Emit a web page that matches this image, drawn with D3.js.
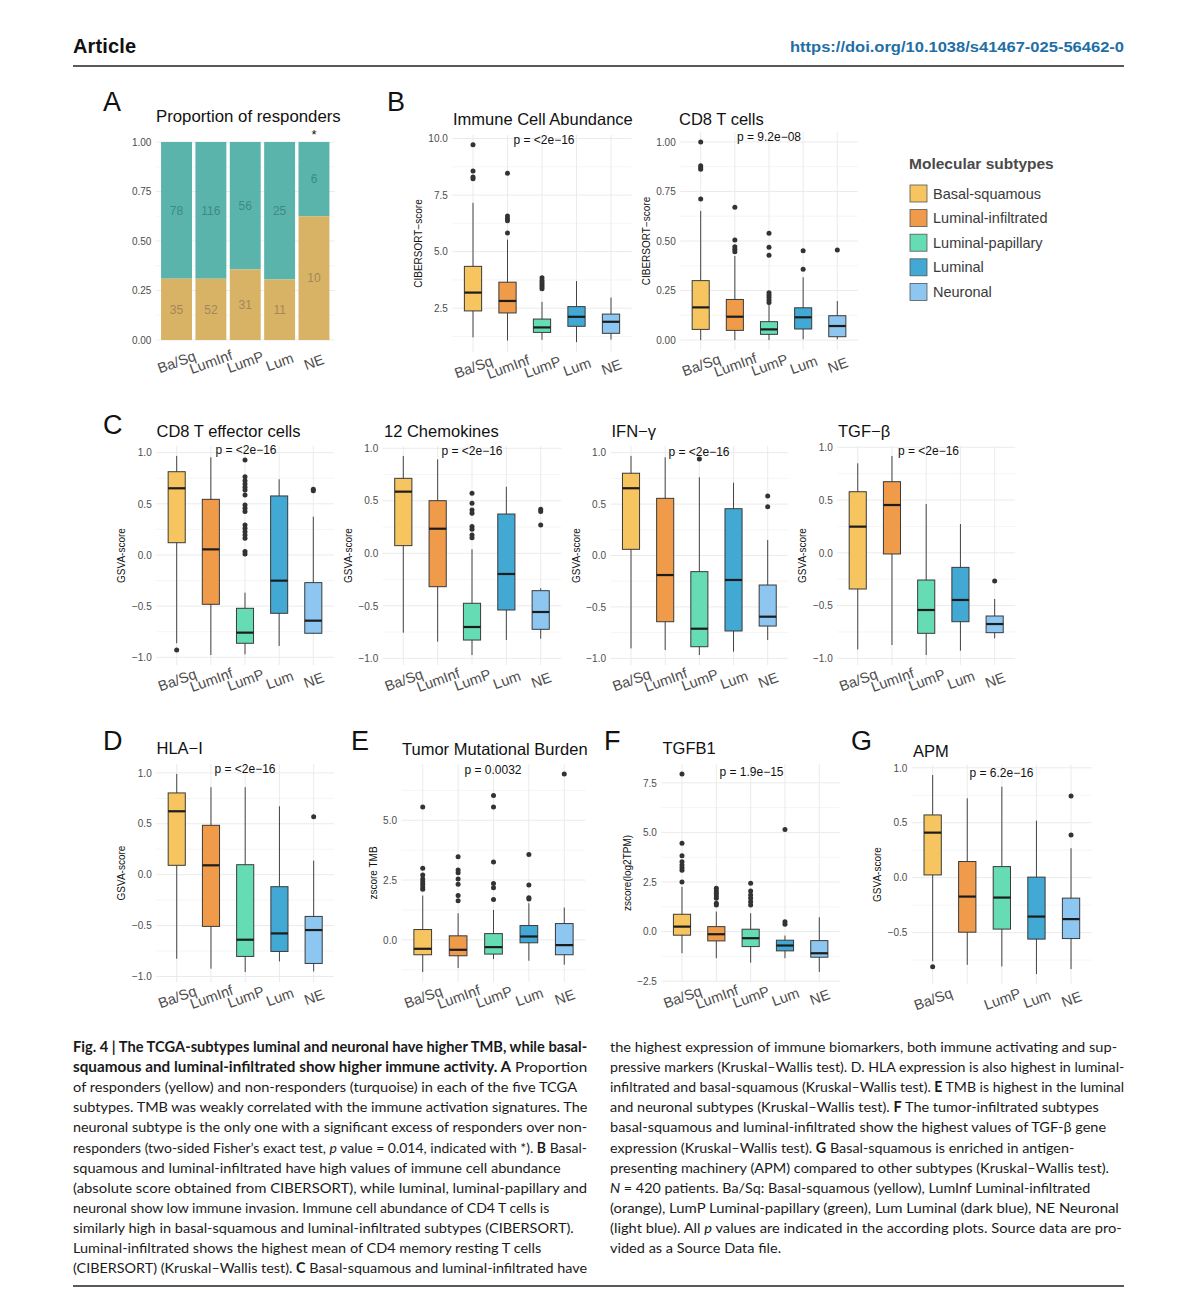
<!DOCTYPE html>
<html>
<head>
<meta charset="utf-8">
<script src="https://cdn.jsdelivr.net/npm/d3@7"></script>
<style>
  body { margin: 0; background: #fff; }
  svg { display: block; font-family: "Liberation Sans", Arial, Helvetica, sans-serif; }
</style>
</head>
<body>
<svg id="fig" width="1188" height="1312"></svg>
<script>
// DATA: categories + colours
const groups = ["Ba/Sq", "LumInf", "LumP", "Lum", "NE"];
const subtypes = ["Basal-squamous", "Luminal-infiltrated", "Luminal-papillary", "Luminal", "Neuronal"];
const subtypeColors = ["#F7C55F", "#EF9B4A", "#66DCB4", "#41A9D4", "#8DC6F1"];

// A: responders / non-responders counts
const responders = [35, 52, 31, 11, 10];
const nonResponders = [78, 116, 56, 25, 6];
const propTicks = [0, 0.25, 0.5, 0.75, 1];

// box stats per group: [lower whisker, q1, median, q3, upper whisker]
const immuneStats = [
  [1.21, 2.38, 3.19, 4.35, 7.16],
  [1.07, 2.29, 2.82, 3.65, 5.53],
  [1.10, 1.43, 1.65, 2.02, 2.78],
  [1.00, 1.70, 2.12, 2.57, 3.70],
  [1.11, 1.39, 1.90, 2.24, 2.97]
];
const immuneOutliers = [[9.72, 8.57, 8.30, 8.22], [8.47, 6.58, 6.46, 6.37, 5.82], [3.85, 3.73, 3.63, 3.54, 3.45, 3.36], [], []];
const immuneTicks = [2.5, 5.0, 7.5, 10.0];

const cd8Stats = [
  [0.0, 0.054, 0.165, 0.30, 0.652],
  [0.0, 0.049, 0.118, 0.205, 0.424],
  [0.0, 0.029, 0.054, 0.093, 0.182],
  [0.004, 0.056, 0.115, 0.163, 0.317],
  [0.004, 0.017, 0.071, 0.123, 0.197]
];
const cd8Outliers = [[1.0, 0.88, 0.87, 0.862, 0.712], [0.67, 0.505, 0.471, 0.458, 0.446], [0.539, 0.468, 0.428, 0.239, 0.227, 0.216, 0.202, 0.19], [0.451, 0.357], [0.455]];
const cd8Ticks = [0, 0.25, 0.5, 0.75, 1.0];

const teffStats = [
  [-0.863, 0.12, 0.652, 0.814, 0.968],
  [-0.978, -0.482, 0.055, 0.544, 0.955],
  [-0.971, -0.863, -0.759, -0.521, -0.368],
  [-0.889, -0.57, -0.251, 0.577, 0.74],
  [-0.77, -0.765, -0.642, -0.27, 0.375]
];
const teffOutliers = [[-0.929], [], [0.929, 0.765, 0.726, 0.694, 0.662, 0.635, 0.587, 0.489, 0.456, 0.424, 0.293, 0.261, 0.228, 0.196, 0.163, 0.033, 0.01], [], [0.642, 0.629]];

const chemoStats = [
  [-0.756, 0.073, 0.587, 0.714, 0.927],
  [-0.841, -0.318, 0.234, 0.501, 0.895],
  [-0.969, -0.826, -0.702, -0.476, 0.038],
  [-0.826, -0.54, -0.197, 0.374, 0.634],
  [-0.813, -0.724, -0.559, -0.356, -0.333]
];
const chemoOutliers = [[], [], [0.571, 0.476, 0.412, 0.381, 0.254, 0.229, 0.174, 0.149], [], [0.419, 0.397, 0.27]];

const ifngStats = [
  [-0.903, 0.06, 0.654, 0.8, 0.968],
  [-0.919, -0.644, -0.19, 0.556, 0.955],
  [-0.968, -0.887, -0.712, -0.157, 0.761],
  [-0.935, -0.734, -0.238, 0.455, 0.708],
  [-0.822, -0.686, -0.595, -0.287, 0.151]
];
const ifngOutliers = [[], [], [0.939], [], [0.579, 0.475]];

const tgfbStats = [
  [-0.915, -0.343, 0.248, 0.579, 0.848],
  [-0.874, -0.011, 0.453, 0.674, 0.918],
  [-0.969, -0.763, -0.542, -0.258, 0.463],
  [-0.928, -0.653, -0.447, -0.138, 0.273],
  [-0.811, -0.757, -0.675, -0.599, -0.438]
];
const tgfbOutliers = [[], [], [], [], [-0.267]];

const hlaStats = [
  [-0.826, 0.092, 0.623, 0.803, 0.99],
  [-0.924, -0.508, 0.092, 0.485, 0.859],
  [-0.957, -0.803, -0.639, 0.098, 0.859],
  [-0.852, -0.754, -0.577, -0.118, 0.672],
  [-0.951, -0.872, -0.544, -0.41, 0.138]
];
const hlaOutliers = [[], [], [], [], [0.57]];
const gsvaTicks = [-1, -0.5, 0, 0.5, 1];

const tmbStats = [
  [-1.35, -0.625, -0.375, 0.43, 1.85],
  [-1.18, -0.667, -0.417, 0.167, 1.11],
  [-0.806, -0.597, -0.306, 0.26, 1.25],
  [-0.875, -0.125, 0.139, 0.597, 1.53],
  [-1.04, -0.625, -0.222, 0.68, 1.35]
];
const tmbOutliers = [[5.56, 2.99, 2.71, 2.54, 2.43, 2.32, 2.21, 2.12], [3.47, 2.92, 2.81, 2.54, 2.32, 1.85, 1.63], [6.04, 5.56, 3.26, 2.36, 2.18, 1.69], [3.57, 2.29, 1.76, 1.71], [6.94]];
const tmbTicks = [0, 2.5, 5.0];

const tgfb1Stats = [
  [-1.09, -0.18, 0.252, 0.875, 2.26],
  [-1.34, -0.468, -0.131, 0.252, 1.01],
  [-1.56, -0.755, -0.332, 0.121, 0.926],
  [-1.34, -0.97, -0.7, -0.433, -0.2],
  [-2.04, -1.29, -1.09, -0.453, 0.725]
];
const tgfb1Outliers = [[7.95, 4.45, 3.83, 3.52, 3.36, 3.22, 3.09, 2.5], [2.18, 2.05, 1.93, 1.81, 1.68, 1.43, 1.34], [2.44, 2.05, 1.85, 1.68, 1.51, 1.34], [5.15, 0.5, 0.37], []];
const tgfb1Ticks = [-2.5, 0, 2.5, 5.0, 7.5];

const apmStats = [
  [-0.76, 0.025, 0.41, 0.571, 0.935],
  [-0.793, -0.496, -0.172, 0.147, 0.723],
  [-0.808, -0.468, -0.181, 0.101, 0.828],
  [-0.877, -0.559, -0.354, 0.005, 0.519],
  [-0.832, -0.554, -0.377, -0.186, 0.268]
];
const apmOutliers = [[-0.81], [], [], [], [0.744, 0.389]];
const apmTicks = [-0.5, 0, 0.5, 1.0];

// caption lines: [text, style] segments
const captionLeft = [
  [["Fig. 4 | The TCGA-subtypes luminal and neuronal have higher TMB, while basal-", "b"]],
  [["squamous and luminal-infiltrated show higher immune activity. A", "b"], [" Proportion", ""]],
  [["of responders (yellow) and non-responders (turquoise) in each of the five TCGA", ""]],
  [["subtypes. TMB was weakly correlated with the immune activation signatures. The", ""]],
  [["neuronal subtype is the only one with a significant excess of responders over non-", ""]],
  [["responders (two-sided Fisher’s exact test, ", ""], ["p", "i"], [" value = 0.014, indicated with *). ", ""], ["B", "b"], [" Basal-", ""]],
  [["squamous and luminal-infiltrated have high values of immune cell abundance", ""]],
  [["(absolute score obtained from CIBERSORT), while luminal, luminal-papillary and", ""]],
  [["neuronal show low immune invasion. Immune cell abundance of CD4 T cells is", ""]],
  [["similarly high in basal-squamous and luminal-infiltrated subtypes (CIBERSORT).", ""]],
  [["Luminal-infiltrated shows the highest mean of CD4 memory resting T cells", ""]],
  [["(CIBERSORT) (Kruskal–Wallis test). ", ""], ["C", "b"], [" Basal-squamous and luminal-infiltrated have", ""]]
];
const captionRight = [
  [["the highest expression of immune biomarkers, both immune activating and sup-", ""]],
  [["pressive markers (Kruskal–Wallis test). D. HLA expression is also highest in luminal-", ""]],
  [["infiltrated and basal-squamous (Kruskal–Wallis test). ", ""], ["E", "b"], [" TMB is highest in the luminal", ""]],
  [["and neuronal subtypes (Kruskal–Wallis test). ", ""], ["F", "b"], [" The tumor-infiltrated subtypes", ""]],
  [["basal-squamous and luminal-infiltrated show the highest values of TGF-β gene", ""]],
  [["expression (Kruskal–Wallis test). ", ""], ["G", "b"], [" Basal-squamous is enriched in antigen-", ""]],
  [["presenting machinery (APM) compared to other subtypes (Kruskal–Wallis test).", ""]],
  [["N", "i"], [" = 420 patients. Ba/Sq: Basal-squamous (yellow), LumInf Luminal-infiltrated", ""]],
  [["(orange), LumP Luminal-papillary (green), Lum Luminal (dark blue), NE Neuronal", ""]],
  [["(light blue). All ", ""], ["p", "i"], [" values are indicated in the according plots. Source data are pro-", ""]],
  [["vided as a Source Data file.", ""]]
];
const captionLeftEnds = [587, 587, 577, 587, 587, 587, 561, 587, 549, 574, 541, 587];
const captionRightEnds = [1117, 1124, 1124, 1099, 1106, 1074, 1109, 1090, 1119, 1122, 781];

const svg = d3.select("#fig");
const GRID = "#EBEBEB";
const AXTXT = "#4d4d4d";

// 1: HEADER
svg.append("text").attr("x", 73).attr("y", 53)
  .attr("font-size", 20).attr("font-weight", "bold").attr("fill", "#111")
  .attr("textLength", 63).text("Article");
svg.append("text").attr("x", 790).attr("y", 52)
  .attr("font-size", 15.5).attr("font-weight", "bold").attr("fill", "#1f6fa6")
  .attr("textLength", 334).attr("lengthAdjust", "spacingAndGlyphs")
  .text("https://doi.org/10.1038/s41467-025-56462-0");
svg.append("line").attr("x1", 73).attr("x2", 1124).attr("y1", 66).attr("y2", 66)
  .attr("stroke", "#222").attr("stroke-width", 1.6);

// panel letters
[["A", 103, 111], ["B", 387, 111], ["C", 103, 434], ["D", 103, 750], ["E", 351, 750], ["F", 604, 750], ["G", 851, 750]]
  .forEach(([t, x, y]) => svg.append("text").attr("x", x).attr("y", y).attr("font-size", 27).attr("fill", "#111").text(t));

// helper: rotated category labels under a panel
function xLabels(g, x, bottom, dy, ticks) {
  g.append("g")
    .attr("transform", `translate(0,${bottom})`)
    .call(d3.axisBottom(x).tickSize(0).tickValues(ticks || groups))
    .call(a => a.select(".domain").remove())
    .attr("font-family", null).attr("font-size", 14.5)
    .selectAll("text")
      .attr("y", 0).attr("dy", "0.35em")
      .attr("fill", AXTXT)
      .attr("transform", `translate(0,${dy}) rotate(-20)`);
}

function yAxis(g, y, x0, ticks, fmt) {
  const ax = g.append("g")
    .attr("transform", `translate(${x0},0)`)
    .call(d3.axisLeft(y).tickValues(ticks).tickSize(0).tickPadding(4.5).tickFormat(d3.format(fmt)))
    .call(a => a.select(".domain").remove())
    .attr("font-family", null).attr("font-size", 10);
  ax.selectAll("text").attr("fill", AXTXT);
  return ax;
}

// 2: PANEL A (stacked proportions)
(function () {
  const g = svg.append("g");
  const top = 142, bottom = 340;
  const x = d3.scaleBand().domain(groups).range([155.9, 334.6]).paddingInner(0.1).paddingOuter(0.15);
  const y = d3.scaleLinear().domain([0, 1]).range([bottom, top]);

  const minor = [0.125, 0.375, 0.625, 0.875];
  g.selectAll(".mn").data(minor).join("line")
    .attr("x1", 155.9).attr("x2", 334.6).attr("y1", d => y(d)).attr("y2", d => y(d))
    .attr("stroke", GRID).attr("stroke-width", 0.5);
  g.selectAll(".mj").data(propTicks).join("line")
    .attr("x1", 155.9).attr("x2", 334.6).attr("y1", d => y(d)).attr("y2", d => y(d))
    .attr("stroke", GRID).attr("stroke-width", 1);

  const rows = groups.map((k, i) => {
    const n = responders[i] + nonResponders[i];
    return { k, r: responders[i], nr: nonResponders[i], p: responders[i] / n };
  });

  g.selectAll(".nr").data(rows).join("rect")
    .attr("x", d => x(d.k)).attr("width", x.bandwidth())
    .attr("y", y(1)).attr("height", d => y(d.p) - y(1))
    .attr("fill", "#5AB4AC");
  g.selectAll(".r").data(rows).join("rect")
    .attr("x", d => x(d.k)).attr("width", x.bandwidth())
    .attr("y", d => y(d.p)).attr("height", d => y(0) - y(d.p))
    .attr("fill", "#D8B365");

  g.selectAll(".nrl").data(rows).join("text")
    .attr("x", d => x(d.k) + x.bandwidth() / 2).attr("y", d => y((1 + d.p) / 2))
    .attr("dy", "0.35em").attr("text-anchor", "middle").attr("font-size", 12)
    .attr("fill", "#3e8a84").text(d => d.nr);
  g.selectAll(".rl").data(rows).join("text")
    .attr("x", d => x(d.k) + x.bandwidth() / 2).attr("y", d => y(d.p / 2))
    .attr("dy", "0.35em").attr("text-anchor", "middle").attr("font-size", 12)
    .attr("fill", "#a3875a").text(d => d.r);

  g.append("text").attr("x", x("NE") + x.bandwidth() / 2).attr("y", 139)
    .attr("text-anchor", "middle").attr("font-size", 13).attr("fill", "#111").text("*");

  yAxis(g, y, 155.9, propTicks, ".2f");
  xLabels(g, x, bottom, 22);

  g.append("text").attr("x", 156).attr("y", 121.5).attr("font-size", 16.8).attr("fill", "#111")
    .text("Proportion of responders");
})();

// 3: BOXPLOT PANELS
const panels = [
  { stats: immuneStats, out: immuneOutliers, ticks: immuneTicks, fmt: ".1f", title: "Immune Cell Abundance", p: "p = <2e−16", ylab: "CIBERSORT−score",
    x0: 452.3, x1: 631.7, top: 135, bottom: 352, tx: 453, ty: 125, px: 544, py: 144 },
  { stats: cd8Stats, out: cd8Outliers, ticks: cd8Ticks, fmt: ".2f", title: "CD8 T cells", p: "p = 9.2e−08", ylab: "CIBERSORT−score",
    x0: 680.2, x1: 857.8, top: 132, bottom: 350, tx: 679, ty: 125, px: 769, py: 141 },
  { stats: teffStats, out: teffOutliers, ticks: gsvaTicks, fmt: ".1f", title: "CD8 T effector cells", p: "p = <2e−16", ylab: "GSVA-score",
    x0: 156.2, x1: 333.8, top: 446, bottom: 665, tx: 156.5, ty: 437, px: 246, py: 454 },
  { stats: chemoStats, out: chemoOutliers, ticks: gsvaTicks, fmt: ".1f", title: "12 Chemokines", p: "p = <2e−16", ylab: "GSVA-score",
    x0: 382.7, x1: 561.3, top: 446, bottom: 665, tx: 384, ty: 437, px: 472, py: 455 },
  { stats: ifngStats, out: ifngOutliers, ticks: gsvaTicks, fmt: ".1f", title: "IFN−γ", p: "p = <2e−16", ylab: "GSVA-score",
    x0: 610.5, x1: 788.2, top: 446, bottom: 665, tx: 611.5, ty: 437, px: 699, py: 456 },
  { stats: tgfbStats, out: tgfbOutliers, ticks: gsvaTicks, fmt: ".1f", title: "TGF−β", p: "p = <2e−16", ylab: "GSVA-score",
    x0: 837.2, x1: 1015.2, top: 446, bottom: 665, tx: 838, ty: 437, px: 928.5, py: 455 },
  { stats: hlaStats, out: hlaOutliers, ticks: gsvaTicks, fmt: ".1f", title: "HLA−I", p: "p = <2e−16", ylab: "GSVA-score",
    x0: 156.2, x1: 334.2, top: 764, bottom: 982, tx: 156.5, ty: 754, px: 245, py: 773 },
  { stats: tmbStats, out: tmbOutliers, ticks: tmbTicks, fmt: ".1f", title: "Tumor Mutational Burden", p: "p = 0.0032", ylab: "zscore TMB",
    x0: 401.5, x1: 585.5, top: 764, bottom: 982, tx: 402, ty: 755, px: 493, py: 774 },
  { stats: tgfb1Stats, out: tgfb1Outliers, ticks: tgfb1Ticks, fmt: ".1f", title: "TGFB1", p: "p = 1.9e−15", ylab: "zscore(log2TPM)",
    x0: 661.4, x1: 839.9, top: 764, bottom: 982, tx: 662.5, ty: 754, px: 751.5, py: 776 },
  { stats: apmStats, out: apmOutliers, ticks: apmTicks, fmt: ".1f", title: "APM", p: "p = 6.2e−16", ylab: "GSVA-score",
    x0: 911.9, x1: 1091.8, top: 765, bottom: 984, tx: 913, ty: 757, px: 1001.5, py: 776.5,
    xTicks: ["Ba/Sq", "LumP", "Lum", "NE"] }
];

function boxPanel(c) {
  const g = svg.append("g");
  const all = c.stats.flat().concat(c.out.flat());
  const [lo, hi] = d3.extent(all);
  const pad = (hi - lo) * 0.05;
  const y = d3.scaleLinear().domain([lo - pad, hi + pad]).range([c.bottom, c.top]);
  const x = d3.scalePoint().domain(groups).range([c.x0, c.x1]).padding(0.6);
  const bw = x.step() * 0.5;

  // grid
  const ts = c.ticks[1] - c.ticks[0];
  const minor = [];
  for (let v = c.ticks[0] - ts * 5.5; v <= hi + pad; v += ts) if (v >= lo - pad) minor.push(v);
  g.selectAll(".mn").data(minor).join("line")
    .attr("x1", c.x0).attr("x2", c.x1).attr("y1", d => y(d)).attr("y2", d => y(d))
    .attr("stroke", GRID).attr("stroke-width", 0.5);
  g.selectAll(".mj").data(c.ticks).join("line")
    .attr("x1", c.x0).attr("x2", c.x1).attr("y1", d => y(d)).attr("y2", d => y(d))
    .attr("stroke", GRID).attr("stroke-width", 1);
  g.selectAll(".vg").data(groups).join("line")
    .attr("x1", d => x(d)).attr("x2", d => x(d)).attr("y1", c.top).attr("y2", c.bottom)
    .attr("stroke", GRID).attr("stroke-width", 1);

  const rows = c.stats.map((s, i) => ({ k: groups[i], s, col: subtypeColors[i] }));

  // whiskers
  g.selectAll(".wh").data(rows).join("line")
    .attr("x1", d => x(d.k)).attr("x2", d => x(d.k))
    .attr("y1", d => y(d.s[0])).attr("y2", d => y(d.s[4]))
    .attr("stroke", "#444").attr("stroke-width", 1);
  // boxes
  g.selectAll(".bx").data(rows).join("rect")
    .attr("x", d => x(d.k) - bw / 2).attr("width", bw)
    .attr("y", d => y(d.s[3])).attr("height", d => y(d.s[1]) - y(d.s[3]))
    .attr("fill", d => d.col).attr("stroke", "#3a3a3a").attr("stroke-width", 1);
  // medians
  g.selectAll(".md").data(rows).join("line")
    .attr("x1", d => x(d.k) - bw / 2).attr("x2", d => x(d.k) + bw / 2)
    .attr("y1", d => y(d.s[2])).attr("y2", d => y(d.s[2]))
    .attr("stroke", "#1c1c1c").attr("stroke-width", 2.2);
  // outliers
  const pts = c.out.flatMap((arr, i) => arr.map(v => ({ k: groups[i], v })));
  g.selectAll(".ol").data(pts).join("circle")
    .attr("cx", d => x(d.k)).attr("cy", d => y(d.v)).attr("r", 2.5)
    .attr("fill", "#333");

  const ax = yAxis(g, y, c.x0, c.ticks, c.fmt);
  const bb = ax.node().getBBox();
  g.append("text")
    .attr("transform", `translate(${c.x0 + bb.x - 10},${(c.top + c.bottom) / 2}) rotate(-90)`)
    .attr("dy", "0.35em").attr("text-anchor", "middle").attr("font-size", 10).attr("fill", "#111")
    .text(c.ylab);

  xLabels(g, x, c.bottom, 15, c.xTicks);

  g.append("text").attr("x", c.tx).attr("y", c.ty).attr("font-size", 16.5).attr("fill", "#111").text(c.title);
  g.append("text").attr("x", c.px).attr("y", c.py).attr("text-anchor", "middle")
    .attr("font-size", 12).attr("fill", "#111").text(c.p);
}
panels.forEach(boxPanel);

// 4: LEGEND
const leg = svg.append("g");
leg.append("text").attr("x", 909).attr("y", 168.5).attr("font-size", 15.5).attr("font-weight", "bold")
  .attr("fill", "#4a4a4a").text("Molecular subtypes");
subtypes.forEach((s, i) => {
  const cy = 193.5 + i * 24.6;
  leg.append("rect").attr("x", 910).attr("y", cy - 8.5).attr("width", 17).attr("height", 17)
    .attr("fill", subtypeColors[i]).attr("stroke", "#555").attr("stroke-width", 0.8);
  leg.append("text").attr("x", 933).attr("y", cy + 5).attr("font-size", 14.5).attr("fill", "#3a3a3a").text(s);
});

// 5: CAPTION
function captionCol(lines, ends, x0) {
  lines.forEach((segs, i) => {
    const t = svg.append("text").attr("x", 0).attr("y", 0)
      .attr("font-family", "Lato, 'Open Sans', sans-serif").attr("font-size", 14.2).attr("fill", "#1a1a1a");
    segs.forEach(([txt, st]) => {
      t.append("tspan").text(txt)
        .attr("font-weight", st === "b" ? "bold" : null)
        .attr("font-style", st === "i" ? "italic" : null);
    });
    const len = t.node().getComputedTextLength();
    let s = (ends[i] - x0) / len;
    s = Math.max(0.85, Math.min(1.15, s));
    t.attr("transform", `translate(${x0},${1052 + i * 20.1}) scale(${s},1)`);
  });
}
captionCol(captionLeft, captionLeftEnds, 73);
captionCol(captionRight, captionRightEnds, 610);

svg.append("line").attr("x1", 73).attr("x2", 1124).attr("y1", 1286).attr("y2", 1286)
  .attr("stroke", "#222").attr("stroke-width", 1.4);
</script>
</body>
</html>
